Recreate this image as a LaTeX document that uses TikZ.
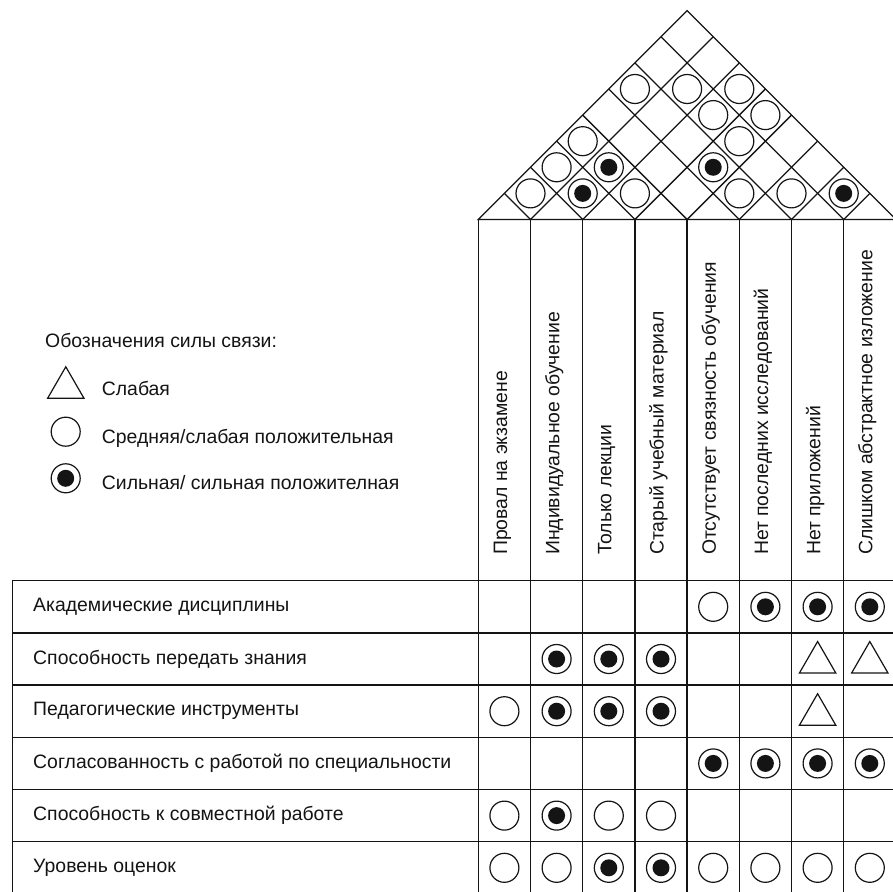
\documentclass[tikz,border=0pt]{standalone}
\usepackage{fontspec}
\setmainfont{Liberation Sans}
\usepackage{tikz}
\usetikzlibrary{shapes.geometric, positioning}
\definecolor{mydark}{RGB}{20,20,20}
\newcommand{\hoqfont}{\fontsize{19.4}{23}\selectfont}
\tikzset{
  gridline/.style={line width=1.3pt, color=mydark},
  rowlabel/.style={anchor=west, inner sep=0pt, font=\hoqfont, text=mydark},
  collabel/.style={rotate=90, anchor=mid west, inner sep=0pt,
    font=\hoqfont, text=mydark},
  legtext/.style={anchor=base west, inner sep=0pt, font=\hoqfont, text=mydark},
  medsym/.style={circle, draw=mydark, fill=white, minimum size=29pt,
    inner sep=0pt, line width=1.2pt},
  strongsym/.style={medsym, path picture={
    \fill[mydark] (path picture bounding box.center) circle (8.5pt);}},
  weaksym/.style={regular polygon, regular polygon sides=3, draw=mydark,
    fill=white, minimum size=42pt, inner sep=0pt, line width=1.2pt, yshift=-3.5pt}
}

\begin{document}
\begin{tikzpicture}[x=1pt, y=1pt]
  \useasboundingbox[fill=white] (0,0) rectangle (893,891);

  % Legend
  \node[legtext] (legtitle) at (45,543.7) {Обозначения силы связи:};
  \node[weaksym] (legweak) at (65.8,506.7) {};
  \node[legtext] (legweaktxt) at (101.7,495) {Слабая};
  \node[medsym] (legmed) at (65.7,459.3) {};
  \node[legtext] (legmedtxt) at (101.7,447.7) {Средняя/слабая положительная};
  \node[strongsym] (legstrong) at (65.7,412.7) {};
  \node[legtext] (legstrongtxt) at (101.7,401) {Сильная/ сильная положителная};

  \begin{scope}[shift={(478.3,671.5)}, x=52.2pt, y=52.2pt]
    % Roof outline
    \draw[gridline] (0,0) -- (4,4) -- (8,0) -- cycle;
    % Roof diamond grid
    \draw[gridline] (0.5,0.5) -- (1,0) -- (4.5,3.5);
    \draw[gridline] (1,1) -- (2,0) -- (5,3);
    \draw[gridline] (1.5,1.5) -- (3,0) -- (5.5,2.5);
    \draw[gridline] (2,2) -- (4,0) -- (6,2);
    \draw[gridline] (2.5,2.5) -- (5,0) -- (6.5,1.5);
    \draw[gridline] (3,3) -- (6,0) -- (7,1);
    \draw[gridline] (3.5,3.5) -- (7,0) -- (7.5,0.5);

    % Column lines (header and matrix)
    \draw[gridline] (0,0) -- (0,-12.92);
    \draw[gridline] (1,0) -- (1,-12.92);
    \draw[gridline] (2,0) -- (2,-12.92);
    \draw[gridline] (3,0) -- (3,-12.92);
    \draw[gridline] (4,0) -- (4,-12.92);
    \draw[gridline] (5,0) -- (5,-12.92);
    \draw[gridline] (6,0) -- (6,-12.92);
    \draw[gridline] (7,0) -- (7,-12.92);
    \draw[gridline] (8,0) -- (8,-12.92);

    % Matrix rows
    \draw[gridline] (-8.93,-6.92) -- (8,-6.92);
    \draw[gridline] (-8.93,-7.92) -- (8,-7.92);
    \draw[gridline] (-8.93,-8.92) -- (8,-8.92);
    \draw[gridline] (-8.93,-9.92) -- (8,-9.92);
    \draw[gridline] (-8.93,-10.92) -- (8,-10.92);
    \draw[gridline] (-8.93,-11.92) -- (8,-11.92);
    \draw[gridline] (-8.93,-12.92) -- (8,-12.92);
    \draw[gridline] (-8.93,-6.92) -- (-8.93,-12.92);

    % Column labels
    \node[collabel] (c1) at (0.5,-6.43) {Провал на экзамене};
    \node[collabel] (c2) at (1.5,-6.43) {Индивидуальное обучение};
    \node[collabel] (c3) at (2.5,-6.43) {Только лекции};
    \node[collabel] (c4) at (3.5,-6.43) {Старый учебный материал};
    \node[collabel] (c5) at (4.5,-6.43) {Отсутствует связность обучения};
    \node[collabel] (c6) at (5.5,-6.43) {Нет последних исследований};
    \node[collabel] (c7) at (6.5,-6.43) {Нет приложений};
    \node[collabel] (c8) at (7.5,-6.43) {Слишком абстрактное изложение};

    % Row labels
    \node[rowlabel] (r1) at (-8.53,-7.42) {Академические дисциплины};
    \node[rowlabel] (r2) at (-8.53,-8.42) {Способность передать знания};
    \node[rowlabel] (r3) at (-8.53,-9.42) {Педагогические инструменты};
    \node[rowlabel] (r4) at (-8.53,-10.42) {Согласованность с работой по специальности};
    \node[rowlabel] (r5) at (-8.53,-11.42) {Способность к совместной работе};
    \node[rowlabel] (r6) at (-8.53,-12.42) {Уровень оценок};

    % Roof correlations
    \node[medsym] (q12) at (1,0.5) {};
    \node[strongsym] (q23) at (2,0.5) {};
    \node[medsym] (q34) at (3,0.5) {};
    \node[medsym] (q56) at (5,0.5) {};
    \node[medsym] (q67) at (6,0.5) {};
    \node[strongsym] (q78) at (7,0.5) {};
    \node[medsym] (q13) at (1.5,1) {};
    \node[strongsym] (q24) at (2.5,1) {};
    \node[strongsym] (q46) at (4.5,1) {};
    \node[medsym] (q14) at (2,1.5) {};
    \node[medsym] (q47) at (5,1.5) {};
    \node[medsym] (q37) at (4.5,2) {};
    \node[medsym] (q48) at (5.5,2) {};
    \node[medsym] (q16) at (3,2.5) {};
    \node[medsym] (q27) at (4,2.5) {};
    \node[medsym] (q38) at (5,2.5) {};

    % Relationship matrix
    \node[medsym] (m15) at (4.5,-7.42) {};
    \node[strongsym] (m16) at (5.5,-7.42) {};
    \node[strongsym] (m17) at (6.5,-7.42) {};
    \node[strongsym] (m18) at (7.5,-7.42) {};

    \node[strongsym] (m22) at (1.5,-8.42) {};
    \node[strongsym] (m23) at (2.5,-8.42) {};
    \node[strongsym] (m24) at (3.5,-8.42) {};
    \node[weaksym] (m27) at (6.5,-8.42) {};
    \node[weaksym] (m28) at (7.5,-8.42) {};

    \node[medsym] (m31) at (0.5,-9.42) {};
    \node[strongsym] (m32) at (1.5,-9.42) {};
    \node[strongsym] (m33) at (2.5,-9.42) {};
    \node[strongsym] (m34) at (3.5,-9.42) {};
    \node[weaksym] (m37) at (6.5,-9.42) {};

    \node[strongsym] (m45) at (4.5,-10.42) {};
    \node[strongsym] (m46) at (5.5,-10.42) {};
    \node[strongsym] (m47) at (6.5,-10.42) {};
    \node[strongsym] (m48) at (7.5,-10.42) {};

    \node[medsym] (m51) at (0.5,-11.42) {};
    \node[strongsym] (m52) at (1.5,-11.42) {};
    \node[medsym] (m53) at (2.5,-11.42) {};
    \node[medsym] (m54) at (3.5,-11.42) {};

    \node[medsym] (m61) at (0.5,-12.42) {};
    \node[medsym] (m62) at (1.5,-12.42) {};
    \node[strongsym] (m63) at (2.5,-12.42) {};
    \node[strongsym] (m64) at (3.5,-12.42) {};
    \node[medsym] (m65) at (4.5,-12.42) {};
    \node[medsym] (m66) at (5.5,-12.42) {};
    \node[medsym] (m67) at (6.5,-12.42) {};
    \node[medsym] (m68) at (7.5,-12.42) {};
  \end{scope}
\end{tikzpicture}
\end{document}
